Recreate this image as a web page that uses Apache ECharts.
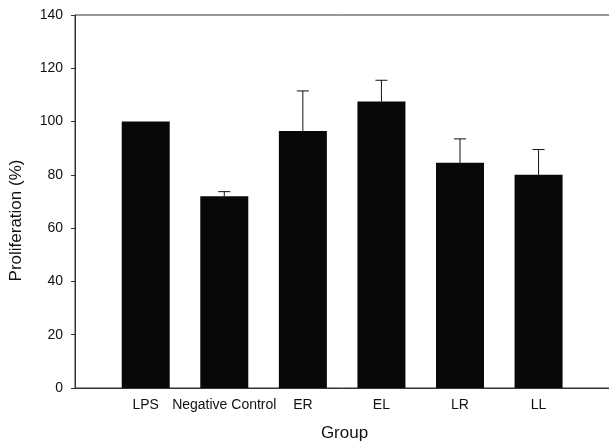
<!DOCTYPE html>
<html>
<head>
<meta charset="utf-8">
<script src="https://cdn.jsdelivr.net/npm/echarts@6/dist/echarts.min.js"></script>
<style>
  html, body { margin: 0; padding: 0; background: #fff; }
  #chart-div { width: 609px; height: 443px; }
</style>
</head>
<body>
<div id="chart-div"></div>
<script>
// data
const groups = ['LPS', 'Negative Control', 'ER', 'EL', 'LR', 'LL']
const proliferation = [100, 72, 96.5, 107.5, 84.5, 80]
const errorUp = [0, 1.7, 15, 8, 9, 9.5]
const yTicks = [0, 20, 40, 60, 80, 100, 120, 140]

const font = "'Liberation Sans', Arial, sans-serif"
const ink = '#111'

let myChart = echarts.init(document.getElementById('chart-div'))

const barData = proliferation.map((v, i) => [i, v])
const errData = proliferation.map((v, i) => [i, v, errorUp[i]])

const option = {
    animation: false,
    grid: {
        left: 75, top: 15, right: -5, bottom: 55,
        outerBoundsMode: 'none',
        containLabel: false,
        show: true, borderColor: '#333', borderWidth: 1, backgroundColor: 'transparent'
    },
    xAxis: {
        type: 'value',
        min: -0.9, max: 5.96,
        name: 'Group',
        nameLocation: 'middle',
        nameGap: 37,
        nameTextStyle: { fontFamily: font, fontSize: 17, color: ink },
        axisLine: { show: true, onZero: false, lineStyle: { color: '#333', width: 1 } },
        axisTick: { show: false },
        splitLine: { show: false },
        axisLabel: {
            customValues: groups.map((g, i) => i),
            formatter: v => groups[v],
            fontFamily: font, fontSize: 14, color: ink, margin: 10
        }
    },
    yAxis: {
        type: 'value',
        min: yTicks[0], max: yTicks[yTicks.length - 1], interval: 20,
        name: 'Proliferation (%)',
        nameLocation: 'middle',
        nameGap: 50,
        nameTextStyle: { fontFamily: font, fontSize: 17, color: ink, padding: [0, 38, 0, 0] },
        axisLine: { show: true, onZero: false, lineStyle: { color: '#333', width: 1 } },
        axisTick: { show: true, length: 4, lineStyle: { color: '#333' } },
        splitLine: { show: false },
        axisLabel: { fontFamily: font, fontSize: 14, color: ink, margin: 12 }
    },
    series: [{
        type: 'bar',
        data: barData,
        barWidth: 48,
        itemStyle: { color: '#080808' }
    }, {
        type: 'custom',
        data: errData,
        z: 5,
        renderItem: function (params, api) {
            const e = api.value(2)
            if (!e) return null
            const base = api.coord([api.value(0), api.value(1)])
            const top = api.coord([api.value(0), api.value(1) + e])
            const st = { stroke: ink, lineWidth: 1 }
            return {
                type: 'group',
                children: [
                    { type: 'line', shape: { x1: base[0], y1: base[1], x2: top[0], y2: top[1] }, style: st },
                    { type: 'line', shape: { x1: top[0] - 6, y1: top[1], x2: top[0] + 6, y2: top[1] }, style: st }
                ]
            }
        }
    }]
}

myChart.setOption(option)
</script>
</body>
</html>
